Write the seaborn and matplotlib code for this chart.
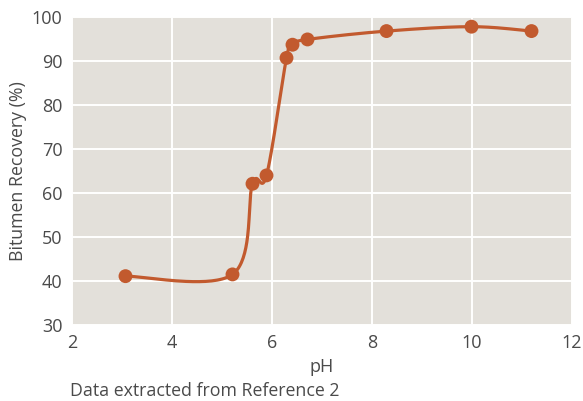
import numpy as np
import pandas as pd
import matplotlib
matplotlib.use("Agg")
import matplotlib.pyplot as plt
import seaborn as sns

# Bitumen recovery vs pH
ph = [3.07, 5.21, 5.61, 5.89, 6.29, 6.41, 6.71, 8.29, 9.99, 11.19]
recovery = [41.1, 41.5, 62.1, 64.0, 90.7, 93.7, 94.9, 96.8, 97.8, 96.8]
x_ticks = [2, 4, 6, 8, 10, 12]
y_ticks = [30, 40, 50, 60, 70, 80, 90, 100]

df = pd.DataFrame({"pH": ph, "recovery": recovery})

sns.set_theme(style="darkgrid")
plt.rcParams["font.family"] = ["Open Sans", "DejaVu Sans"]

orange = "#c25a2e"
text_col = "#4a4a4a"


def catmull_rom(xs, ys, n=40):
    # uniform Catmull-Rom smoothing through the data points
    p = np.column_stack([xs, ys]).astype(float)
    p = np.vstack([p[0], p, p[-1]])
    out = []
    t = np.linspace(0, 1, n)[:, None]
    for i in range(1, len(p) - 2):
        p0, p1, p2, p3 = p[i - 1], p[i], p[i + 1], p[i + 2]
        m1 = (p2 - p0) / 2
        m2 = (p3 - p1) / 2
        h00 = 2 * t**3 - 3 * t**2 + 1
        h10 = t**3 - 2 * t**2 + t
        h01 = -2 * t**3 + 3 * t**2
        h11 = t**3 - t**2
        out.append(h00 * p1 + h10 * m1 + h01 * p2 + h11 * m2)
    c = np.vstack(out)
    return c[:, 0], c[:, 1]


fig = plt.figure(figsize=(5.83, 4.01), dpi=100)
ax = fig.add_axes([72 / 583, 76 / 401, 500 / 583, 308 / 401])
ax.set_facecolor("#e3e0da")

sx, sy = catmull_rom(df["pH"], df["recovery"])
ax.plot(sx, sy, color=orange, lw=2.3, solid_capstyle="round", zorder=3)
sns.scatterplot(data=df, x="pH", y="recovery", color=orange, s=100,
                edgecolor="none", ax=ax, zorder=4)

ax.set_xlim(2, 12)
ax.set_ylim(30, 100)
ax.set_xticks(x_ticks)
ax.set_yticks(y_ticks)
ax.grid(color="white", lw=1.4)
for s in ax.spines.values():
    s.set_visible(False)
ax.tick_params(axis="both", length=0, labelsize=13, labelcolor=text_col)
ax.tick_params(axis="x", pad=6.5)
ax.tick_params(axis="y", pad=7)

ax.set_xlabel("pH", fontsize=13, color=text_col, labelpad=4.5)
ax.set_ylabel("Bitumen Recovery (%)", fontsize=12.8, color=text_col)
ax.yaxis.set_label_coords(-0.09, 0.5)

fig.text(70 / 583, 1 - 391 / 401, "Data extracted from Reference 2",
         fontsize=12.8, color=text_col, ha="left", va="center")

fig.savefig("out.png", dpi=100)
